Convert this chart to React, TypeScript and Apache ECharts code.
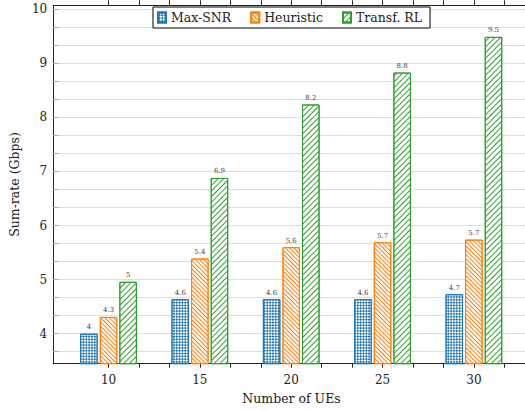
import React, { useEffect, useRef } from "react";
import * as echarts from "echarts";

const ues = [10, 15, 20, 25, 30];
const maxSNR = [4.0, 4.64, 4.64, 4.64, 4.73];
const heuristic = [4.31, 5.39, 5.6, 5.69, 5.74];
const transfRL = [4.96, 6.88, 8.24, 8.83, 9.49];
const seriesNames = ["Max-SNR", "Heuristic", "Transf. RL"];
const yTickLabels = [4, 5, 6, 7, 8, 9, 10];
const yGridValues = [
  3.6667, 4, 4.3333, 4.6667, 5, 5.3333, 5.6667, 6, 6.3333, 6.6667, 7, 7.3333,
  7.6667, 8, 8.3333, 8.6667, 9, 9.3333, 9.6667, 10,
];
const xTickValues = [
  10, 11.6667, 13.3333, 15, 16.6667, 18.3333, 20, 21.6667, 23.3333, 25,
  26.6667, 28.3333, 30, 31.6667,
];

const SERIF = "DejaVu Serif";
const BLUE = "#1f77b4";
const ORANGE = "#ff7f0e";
const GREEN = "#2ca02c";

const fmt = (v: number) => String(Math.round(v * 10) / 10);

function makeSeries(name: string, vals: number[], color: string, decal: any) {
  return {
    type: "bar",
    name,
    xAxisIndex: 0,
    yAxisIndex: 0,
    data: ues.map((u, i) => [u, vals[i]]),
    barWidth: 17.5,
    barGap: "12%",
    itemStyle: { color: "#fff", borderColor: color, borderWidth: 1, decal },
    label: {
      show: true,
      position: "top",
      distance: 3,
      fontSize: 7,
      color: "#444",
      fontFamily: SERIF,
      formatter: (p: any) => fmt(p.value[1]),
    },
  };
}

export default function App() {
  const ref = useRef<HTMLDivElement>(null);
  useEffect(() => {
    if (!ref.current) return;
    const chart = echarts.init(ref.current, undefined, { renderer: "svg" });
    const axisLineStyle = { color: "#222", width: 1 };
    chart.setOption({
      animation: false,
      backgroundColor: "#fff",
      textStyle: { fontFamily: SERIF },
      grid: { left: 52.3, right: 1.2, top: 5.3, bottom: 47.3, containLabel: false },
      legend: {
        left: 153,
        top: 7,
        itemWidth: 8,
        itemHeight: 10,
        itemGap: 19,
        padding: [4, 8, 4, 4],
        borderColor: "#000",
        borderWidth: 1,
        backgroundColor: "#fff",
        selectedMode: false,
        icon: "rect",
        textStyle: { fontFamily: SERIF, fontSize: 12.5, color: "#222" },
        data: seriesNames,
      },
      xAxis: [
        {
          type: "value",
          min: 6.97,
          max: 33.06,
          position: "bottom",
          axisLine: { show: true, onZero: false, lineStyle: axisLineStyle },
          axisTick: {
            show: true,
            inside: false,
            length: 4,
            customValues: xTickValues,
            lineStyle: { color: "#222" },
          },
          axisLabel: {
            customValues: ues,
            margin: 10,
            fontFamily: SERIF,
            fontSize: 12,
            color: "#222",
          },
          splitLine: { show: false },
          name: "Number of UEs",
          nameLocation: "middle",
          nameGap: 28,
          nameTextStyle: { fontFamily: SERIF, fontSize: 12.5, color: "#222" },
        },
        {
          type: "value",
          min: 6.97,
          max: 33.06,
          position: "top",
          axisLine: { show: true, onZero: false, lineStyle: axisLineStyle },
          axisTick: {
            show: true,
            inside: false,
            length: 5,
            customValues: xTickValues,
            lineStyle: { color: "#222" },
          },
          axisLabel: { show: false },
          splitLine: { show: false },
        },
      ],
      yAxis: [
        {
          type: "value",
          min: 3.445,
          max: 10.074,
          position: "left",
          axisLine: { show: true, onZero: false, lineStyle: axisLineStyle },
          axisTick: {
            show: true,
            inside: true,
            length: 5,
            customValues: yGridValues,
            lineStyle: { color: "#aaa" },
          },
          axisLabel: {
            customValues: yTickLabels,
            margin: 6,
            fontFamily: SERIF,
            fontSize: 12,
            color: "#222",
          },
          splitLine: { show: true, lineStyle: { color: "#dedede", width: 1 } },
          name: "Sum-rate (Gbps)",
          nameLocation: "middle",
          nameGap: 30,
          nameTextStyle: { fontFamily: SERIF, fontSize: 12.5, color: "#222" },
        },
        {
          type: "value",
          min: 3.445,
          max: 10.074,
          position: "right",
          axisLine: { show: true, onZero: false, lineStyle: axisLineStyle },
          axisTick: {
            show: true,
            inside: true,
            length: 5,
            customValues: yTickLabels,
            lineStyle: { color: "#888" },
          },
          axisLabel: { show: false },
          splitLine: { show: false },
        },
      ],
      series: [
        makeSeries(seriesNames[0], maxSNR, BLUE, {
          symbol: "rect",
          symbolSize: 1,
          color: BLUE,
          backgroundColor: "#fff",
          dashArrayX: [
            [1.5, 1.5],
            [0, 1.5, 1.5, 0],
          ],
          dashArrayY: [1.5, 0],
          rotation: Math.PI / 4,
        }),
        makeSeries(seriesNames[1], heuristic, ORANGE, {
          symbol: "rect",
          symbolSize: 1,
          color: ORANGE,
          backgroundColor: "#fff",
          dashArrayX: [1, 0],
          dashArrayY: [1, 1.8],
          rotation: Math.PI / 4,
        }),
        makeSeries(seriesNames[2], transfRL, GREEN, {
          symbol: "rect",
          symbolSize: 1,
          color: GREEN,
          backgroundColor: "#fff",
          dashArrayX: [1, 0],
          dashArrayY: [1, 2.4],
          rotation: -Math.PI / 4,
        }),
      ],
    });
    return () => chart.dispose();
  }, []);
  return (
    <div
      style={{
        position: "fixed",
        left: 0,
        top: 0,
        width: 525,
        height: 411,
        overflow: "hidden",
        background: "#fff",
      }}
    >
      <div ref={ref} style={{ width: 531, height: 411 }} />
    </div>
  );
}
